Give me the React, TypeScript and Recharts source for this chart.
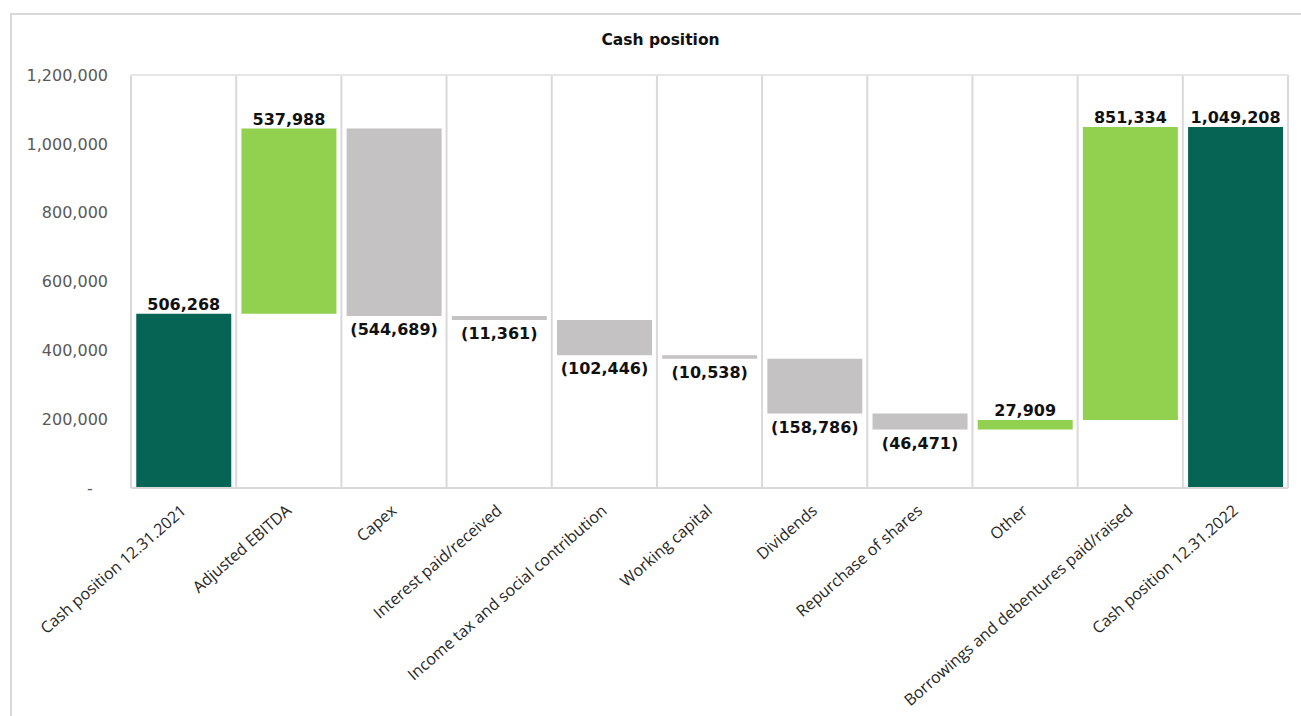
import { Bar, BarChart, CartesianGrid, Cell, LabelList, ReferenceLine, XAxis, YAxis } from "recharts";

const categories = [
  "Cash position 12.31.2021",
  "Adjusted EBITDA",
  "Capex",
  "Interest paid/received",
  "Income tax and social contribution",
  "Working capital",
  "Dividends",
  "Repurchase of shares",
  "Other",
  "Borrowings and debentures paid/raised",
  "Cash position 12.31.2022",
];
const amounts = [506268, 537988, -544689, -11361, -102446, -10538, -158786, -46471, 27909, 851334, 1049208];
const kinds = ["total", "step", "step", "step", "step", "step", "step", "step", "step", "step", "total"];
const yTicks = [0, 200000, 400000, 600000, 800000, 1000000, 1200000];

const COLORS = { total: "#066454", up: "#92D050", down: "#C4C2C2" };
const nf = new Intl.NumberFormat("en-US");

let running = 0;
const data = categories.map((name, i) => {
  const v = amounts[i];
  let range: [number, number];
  if (kinds[i] === "total") {
    range = [0, v];
    running = v;
  } else {
    const next = running + v;
    range = [Math.min(running, next), Math.max(running, next)];
    running = next;
  }
  return { name, range, amount: v, color: kinds[i] === "total" ? COLORS.total : v >= 0 ? COLORS.up : COLORS.down };
});

// vertical separators sit on the band edges, not the band centres
const bandEdgeLines = ({ offset }: any) =>
  Array.from({ length: categories.length + 1 }, (_, i) => offset.left + (i * offset.width) / categories.length);

function CategoryTick(props: any) {
  const { x, y, payload } = props;
  return (
    <text
      x={0}
      y={0}
      dy="0.35em"
      textAnchor="end"
      fill="#262626"
      fontSize={16}
      fontFamily="Open Sans"
      transform={`translate(${x},${y + 12}) rotate(-41)`}
    >
      {payload.value}
    </text>
  );
}

function ValueLabel(props: any) {
  const { x, y, width, height, index } = props;
  const v = amounts[index];
  const top = Math.min(y, y + height);
  const bottom = Math.max(y, y + height);
  const neg = v < 0;
  return (
    <text
      x={x + width / 2}
      y={neg ? bottom + 19 : top - 4}
      textAnchor="middle"
      fill="#111"
      fontSize={16}
      fontWeight="bold"
      fontFamily="DejaVu Sans"
    >
      {neg ? `(${nf.format(-v)})` : nf.format(v)}
    </text>
  );
}

export default function App() {
  return (
    <div style={{ position: "absolute", left: 0, top: 0, width: 1301, height: 716, background: "#fff", overflow: "hidden" }}>
      <div style={{ position: "absolute", left: 10, top: 13, width: 1320, height: 740, border: "2px solid #d9d9d9", boxSizing: "border-box" }} />
      <div
        style={{
          position: "absolute",
          left: 0,
          top: 31,
          width: 1321,
          textAlign: "center",
          fontFamily: "DejaVu Sans",
          fontWeight: "bold",
          fontSize: 15.5,
          color: "#111",
        }}
      >
        Cash position
      </div>
      <div style={{ position: "absolute", left: 0, top: 0 }}>
        <BarChart width={1301} height={716} data={data} margin={{ top: 75, right: 13, left: 0, bottom: 0 }} barCategoryGap="5%">
          <CartesianGrid horizontal={false} verticalCoordinatesGenerator={bandEdgeLines} stroke="#d9d9d9" strokeWidth={2} />
          <XAxis
            dataKey="name"
            interval={0}
            height={228}
            tick={<CategoryTick />}
            tickLine={false}
            axisLine={{ stroke: "#d9d9d9", strokeWidth: 2 }}
          />
          <YAxis
            width={131}
            domain={[0, 1200000]}
            ticks={yTicks}
            tickFormatter={(v: number) => (v === 0 ? "-\u00a0\u00a0\u00a0" : nf.format(v))}
            tick={{ fill: "#595959", fontSize: 16, fontFamily: "DejaVu Sans" }}
            tickLine={false}
            axisLine={false}
            tickSize={10}
            tickMargin={13}
          />
          <ReferenceLine y={1200000} stroke="#e6e6e6" strokeWidth={2} />
          <Bar dataKey="range" isAnimationActive={false}>
            {data.map((d, i) => (
              <Cell key={i} fill={d.color} />
            ))}
            <LabelList dataKey="range" content={<ValueLabel />} />
          </Bar>
        </BarChart>
      </div>
    </div>
  );
}
